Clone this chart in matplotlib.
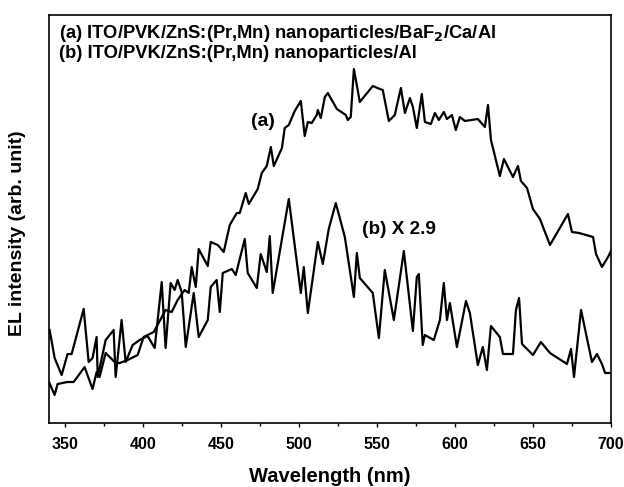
import matplotlib
matplotlib.use("Agg")
import matplotlib.pyplot as plt
from matplotlib.ticker import MultipleLocator

plt.rcParams['font.family'] = ['Liberation Sans', 'DejaVu Sans']
plt.rcParams['font.weight'] = 'bold'
plt.rcParams['mathtext.default'] = 'bf'

# Curve (a): ITO/PVK/ZnS:(Pr,Mn) nanoparticles/BaF2/Ca/Al
wl_a = [340.0, 343.6, 345.5, 351.9, 355.8, 362.8, 367.9, 370.5, 372.4, 376.3,
        382.7, 385.3, 390.4, 396.8, 400.6, 407.1, 414.7, 418.6, 422.4, 426.9,
        429.5, 431.4, 434.0, 435.9, 441.7, 443.6, 448.1, 451.9, 455.8, 460.3,
        462.2, 466.0, 468.0, 473.7, 476.3, 479.5, 482.1, 484.0, 489.2, 491.0,
        493.6, 497.4, 501.3, 503.8, 505.8, 508.3, 511.5, 512.2, 514.1, 516.7,
        518.6, 524.4, 530.1, 531.4, 533.3, 535.3, 539.1, 547.4, 551.9, 553.8,
        557.7, 561.5, 565.4, 568.0, 571.2, 573.1, 575.6, 578.8, 580.8, 584.6,
        587.2, 589.7, 592.9, 594.9, 598.1, 600.6, 603.2, 606.4, 614.7, 619.2,
        621.2, 623.1, 628.8, 631.4, 637.2, 640.4, 642.3, 646.2, 650.0, 654.5,
        660.9, 672.4, 675.0, 679.5, 688.5, 690.4, 694.2, 698.1, 700.0]
int_a = [41, 28, 39, 41, 41, 56, 34, 51, 46, 70,
         60, 60, 63, 68, 86, 91, 113, 111, 123, 133,
         130, 156, 136, 174, 157, 181, 178, 171, 198, 210,
         210, 230, 219, 234, 250, 257, 276, 257, 275, 295,
         298, 312, 322, 287, 301, 300, 308, 313, 305, 326,
         330, 314, 308, 303, 306, 354, 321, 337, 334, 333,
         302, 308, 335, 310, 325, 316, 295, 329, 301, 299,
         310, 303, 311, 304, 308, 293, 306, 302, 304, 296,
         318, 283, 247, 264, 246, 257, 242, 235, 214, 204,
         178, 209, 191, 190, 186, 169, 156, 166, 172]

# Curve (b): ITO/PVK/ZnS:(Pr,Mn) nanoparticles/Al, multiplied by 2.9
wl_b = [340.4, 343.6, 348.1, 351.9, 354.5, 362.2, 365.4, 367.9, 370.5, 371.2,
        376.3, 381.4, 382.7, 386.5, 389.1, 393.6, 398.1, 403.2, 407.7, 412.2,
        414.7, 417.9, 420.5, 422.4, 425.0, 427.6, 432.7, 435.9, 441.7, 443.6,
        447.4, 449.4, 451.3, 457.1, 459.6, 465.4, 467.3, 473.1, 475.6, 479.5,
        481.4, 483.3, 493.6, 501.3, 503.2, 505.8, 512.2, 515.4, 519.2, 523.7,
        529.5, 535.3, 537.2, 539.1, 547.4, 551.3, 555.1, 560.9, 567.3, 573.1,
        575.6, 576.9, 579.4, 580.8, 586.5, 590.4, 592.9, 594.9, 596.8, 601.3,
        607.1, 609.6, 614.7, 617.9, 620.5, 623.1, 628.8, 630.8, 637.2, 639.1,
        641.1, 643.0, 650.0, 655.1, 660.9, 671.8, 674.4, 676.3, 680.8, 687.8,
        691.0, 694.2, 696.2, 699.4]
int_b = [93, 65, 48, 69, 69, 114, 61, 65, 86, 46,
         83, 93, 46, 103, 61, 78, 83, 87, 75, 141,
         75, 140, 133, 143, 131, 76, 130, 86, 103, 136,
         143, 111, 150, 154, 148, 184, 150, 135, 169, 151,
         187, 130, 224, 130, 156, 110, 181, 159, 194, 220,
         186, 126, 170, 145, 130, 85, 153, 103, 172, 92,
         146, 149, 78, 88, 83, 103, 140, 103, 120, 76,
         122, 110, 58, 76, 53, 97, 86, 69, 69, 113,
         125, 79, 68, 81, 70, 59, 74, 46, 113, 61,
         69, 59, 50, 50]

legend_a = "(a) ITO/PVK/ZnS:(Pr,Mn) nanoparticles/BaF$_\\mathbf{2}$/Ca/Al"
legend_b = "(b) ITO/PVK/ZnS:(Pr,Mn) nanoparticles/Al"

W, H = 624, 487
fig = plt.figure(figsize=(W / 100, H / 100), dpi=100)
ax = fig.add_axes([49 / W, 1 - 423 / H, (611 - 49) / W, (423 - 15) / H])

ax.plot(wl_a, int_a, color='black', lw=1.6)
ax.plot(wl_b, int_b, color='black', lw=1.6)

ax.set_xlim(340, 700)
ax.set_ylim(0, 408)
ax.xaxis.set_major_locator(MultipleLocator(50))
ax.xaxis.set_minor_locator(MultipleLocator(25))
ax.set_yticks([])
ax.tick_params(axis='x', which='major', direction='out', length=3, width=1,
               labelsize=11.5, pad=7)
ax.tick_params(axis='x', which='minor', direction='out', length=2, width=1)
for lab in ax.get_xticklabels():
    lab.set_fontweight('bold')
for s in ax.spines.values():
    s.set_linewidth(1.2)

ax.set_xlabel("Wavelength (nm)", fontsize=14.5, fontweight='bold')
ax.xaxis.set_label_coords(0.5, (423 - 477) / 408)
ax.xaxis.label.set_va('center')
ax.set_ylabel("EL intensity (arb. unit)", fontsize=14, fontweight='bold')
ax.yaxis.set_label_coords((18 - 49) / 562, (423 - 233) / 408)
ax.yaxis.label.set_va('center')

fig.text(59 / W, 1 - 33 / H, legend_a, fontsize=13.2, fontweight='bold', va='center', ha='left')
fig.text(59 / W, 1 - 53 / H, legend_b, fontsize=13.2, fontweight='bold', va='center', ha='left')
fig.text(263 / W, 1 - 122 / H, "(a)", fontsize=14, fontweight='bold', va='center', ha='center')
fig.text(399 / W, 1 - 230 / H, "(b) X 2.9", fontsize=13.7, fontweight='bold', va='center', ha='center')

fig.savefig("out.png", dpi=100)
